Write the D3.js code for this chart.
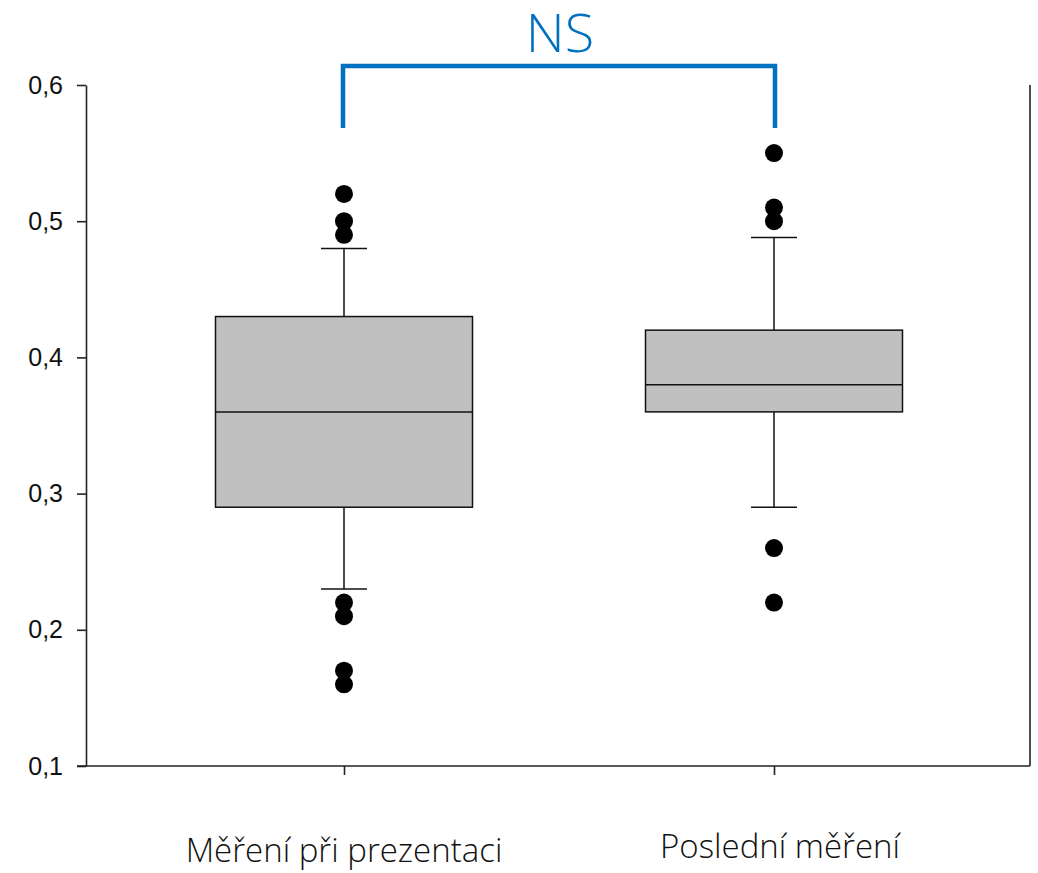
<!DOCTYPE html>
<html>
<head>
<meta charset="utf-8">
<script src="https://cdn.jsdelivr.net/npm/d3@7"></script>
<style>
  body { margin: 0; background: #fff; }
</style>
</head>
<body>
<svg class="chart" width="1038" height="873"></svg>
<script>
// Data
let categories = ["Měření při prezentaci", "Poslední měření"];
let q1 = [0.29, 0.36];
let medians = [0.36, 0.38];
let q3 = [0.43, 0.42];
let whiskerLow = [0.23, 0.29];
let whiskerHigh = [0.48, 0.488];
let outliers = [
    [0.52, 0.50, 0.49, 0.22, 0.21, 0.17, 0.16],
    [0.55, 0.51, 0.50, 0.26, 0.22]
];
let yTicks = [0.1, 0.2, 0.3, 0.4, 0.5, 0.6];
let significance = "NS";

let svg = d3.select(".chart");

let plot = {
    left: 86,
    right: 1030,
    top: 85,
    bottom: 766
};

// Scales
let yScale = d3.scaleLinear()
    .domain([0.1, 0.6])
    .range([plot.bottom, plot.top]);

let xScale = d3.scalePoint()
    .domain(categories)
    .range([344, 774]);

let boxWidth = 257;
let capHalf = 23;
let dotRadius = 9;

// Left axis
let yAxis = d3.axisLeft(yScale)
    .tickValues(yTicks)
    .tickSize(9)
    .tickSizeOuter(0)
    .tickFormat(d => d3.format(".1f")(d).replace(".", ","));

let yAxisG = svg.append("g")
    .attr("transform", "translate(" + plot.left + ",0)")
    .call(yAxis);
yAxisG.select(".domain").attr("stroke", "#222").attr("stroke-width", 1.6);
yAxisG.selectAll(".tick line").attr("stroke", "#222").attr("stroke-width", 1.6);
yAxisG.selectAll(".tick text")
    .attr("x", -23)
    .style("font-family", "Liberation Sans, Arial, sans-serif")
    .style("font-size", "25px")
    .attr("fill", "#111");

// Bottom axis
let xAxis = d3.axisBottom(xScale)
    .tickSize(9)
    .tickSizeOuter(0)
    .tickFormat("");
let xAxisG = svg.append("g")
    .attr("transform", "translate(0," + plot.bottom + ")")
    .call(xAxis);
xAxisG.select(".domain")
    .attr("d", "M" + (plot.left - 9) + ",0H" + plot.right)
    .attr("stroke", "#222").attr("stroke-width", 1.6);
xAxisG.selectAll(".tick line").attr("stroke", "#222").attr("stroke-width", 1.6);

// Right frame line
svg.append("line")
    .attr("x1", plot.right).attr("x2", plot.right)
    .attr("y1", plot.top).attr("y2", plot.bottom)
    .attr("stroke", "#222").attr("stroke-width", 1.6);

// Category labels
categories.forEach((c, i) => {
    svg.append("text")
        .attr("x", xScale(c) + (i == 0 ? 0 : 6))
        .attr("y", i == 0 ? 862 : 858)
        .attr("text-anchor", "middle")
        .style("font-family", "Open Sans, sans-serif")
        .style("font-weight", 300)
        .style("font-size", "33px")
        .attr("fill", "#111")
        .text(c);
});

// Boxes
categories.forEach((c, i) => {
    let cx = xScale(c);
    let g = svg.append("g");

    // Whiskers
    g.append("line")
        .attr("x1", cx).attr("x2", cx)
        .attr("y1", yScale(whiskerHigh[i])).attr("y2", yScale(q3[i]))
        .attr("stroke", "#111").attr("stroke-width", 1.5);
    g.append("line")
        .attr("x1", cx).attr("x2", cx)
        .attr("y1", yScale(q1[i])).attr("y2", yScale(whiskerLow[i]))
        .attr("stroke", "#111").attr("stroke-width", 1.5);
    [whiskerHigh[i], whiskerLow[i]].forEach(v => {
        g.append("line")
            .attr("x1", cx - capHalf).attr("x2", cx + capHalf)
            .attr("y1", yScale(v)).attr("y2", yScale(v))
            .attr("stroke", "#111").attr("stroke-width", 1.5);
    });

    // Box
    g.append("rect")
        .attr("x", cx - boxWidth / 2)
        .attr("y", yScale(q3[i]))
        .attr("width", boxWidth)
        .attr("height", yScale(q1[i]) - yScale(q3[i]))
        .attr("fill", "#c0c0c0")
        .attr("stroke", "#111")
        .attr("stroke-width", 1.5);

    // Median
    g.append("line")
        .attr("x1", cx - boxWidth / 2).attr("x2", cx + boxWidth / 2)
        .attr("y1", yScale(medians[i])).attr("y2", yScale(medians[i]))
        .attr("stroke", "#111").attr("stroke-width", 1.5);

    // Outliers
    g.selectAll("circle")
        .data(outliers[i])
        .enter()
        .append("circle")
        .attr("cx", cx)
        .attr("cy", d => yScale(d))
        .attr("r", dotRadius)
        .attr("fill", "#000");
});

// Significance bracket
let bracketY = 66;
let bracketBottom = 128;
let x1 = xScale(categories[0]) - 1;
let x2 = xScale(categories[1]) + 1;
svg.append("path")
    .attr("d", "M" + x1 + "," + bracketBottom + "V" + bracketY + "H" + x2 + "V" + bracketBottom)
    .attr("fill", "none")
    .attr("stroke", "#0070c0")
    .attr("stroke-width", 4.5);

svg.append("text")
    .attr("x", 560)
    .attr("y", 52)
    .attr("text-anchor", "middle")
    .style("font-family", "Open Sans, sans-serif")
    .style("font-weight", 300)
    .style("font-size", "54px")
    .attr("fill", "#0070c0")
    .text(significance);
</script>
</body>
</html>
